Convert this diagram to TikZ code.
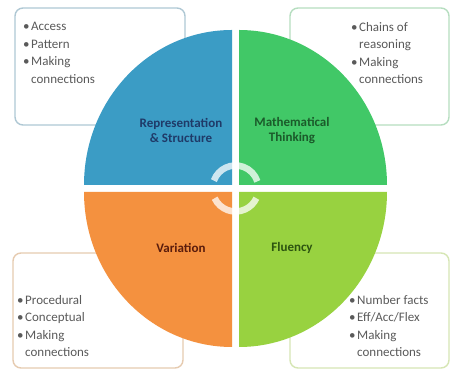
\documentclass[tikz,border=0pt]{standalone}
\usepackage{fontspec}
\setmainfont{Carlito}
\definecolor{qblue}{HTML}{3B9CC5}
\definecolor{qgreen}{HTML}{41C867}
\definecolor{qorange}{HTML}{F4913F}
\definecolor{qlime}{HTML}{98D240}
\definecolor{tblue}{HTML}{1F3A68}
\definecolor{tgreen}{HTML}{1B5A2A}
\definecolor{torange}{HTML}{5A1C0C}
\definecolor{tlime}{HTML}{2C5410}
\definecolor{bblue}{HTML}{AFC8D4}
\definecolor{bgreen}{HTML}{B6DEC0}
\definecolor{borange}{HTML}{E6CBB0}
\definecolor{blime}{HTML}{D6E6B4}
\definecolor{btext}{HTML}{5A5A5A}
\tikzset{
  infobox/.style={draw=#1, line width=1.4pt, rounded corners=8pt, fill=white},
  listtext/.style={anchor=north west, inner sep=0pt, align=left, text=btext,
    font=\fontsize{13}{17.5}\selectfont},
  qlabel/.style={align=center, inner sep=0pt, font=\fontsize{13}{15}\selectfont\bfseries},
  cyc/.style={white, opacity=0.75, line width=6.5pt}
}
\newcommand{\bul}{\makebox[8pt][l]{\textbullet}}
\newcommand{\nobul}{\makebox[8pt][l]{}}
\begin{document}
\begin{tikzpicture}[x=1pt,y=1pt]
\useasboundingbox (0,0) rectangle (451,374);
\fill[white] (0,0) rectangle (451,374);
% boxes
\draw[infobox=bblue] (15,249) rectangle (185,366);
\draw[infobox=bgreen] (290,249) rectangle (449,366);
\draw[infobox=borange] (13,6) rectangle (183,121);
\draw[infobox=blime] (290,6) rectangle (449,121);
% quadrants
\fill[qblue] (232,189) -- (84,189) arc[start angle=180,end angle=90,x radius=148,y radius=155] -- cycle;
\fill[qgreen] (239,189) -- (239,344) arc[start angle=90,end angle=0,x radius=148,y radius=155] -- cycle;
\fill[qorange] (232,182) -- (84,182) arc[start angle=180,end angle=270,x radius=148,y radius=155] -- cycle;
\fill[qlime] (239,182) -- (387,182) arc[start angle=0,end angle=-90,x radius=148,y radius=155] -- cycle;
% cycle arcs
\draw[cyc] (235.5,185.5) ++(160:23) arc[start angle=160,end angle=18,radius=23];
\draw[cyc] (235.5,185.5) ++(205:23) arc[start angle=205,end angle=335,radius=23];
% labels
\node[qlabel, text=tblue] (rep) at (181,244) {Representation\\\& Structure};
\node[qlabel, text=tgreen] (math) at (292,243) {Mathematical\\Thinking};
\node[qlabel, text=torange] (var) at (181,126) {Variation};
\node[qlabel, text=tlime] (flu) at (292,126) {Fluency};
% lists
\node[listtext] (tl) at (23,352) {\bul Access\\\bul Pattern\\\bul Making\\\nobul connections};
\node[listtext] (tr) at (351,352) {\bul Chains of\\\nobul reasoning\\\bul Making\\\nobul connections};
\node[listtext] (bl) at (17,79) {\bul Procedural\\\bul Conceptual\\\bul Making\\\nobul connections};
\node[listtext] (br) at (349,79) {\bul Number facts\\\bul Eff/Acc/Flex\\\bul Making\\\nobul connections};
\end{tikzpicture}
\end{document}
